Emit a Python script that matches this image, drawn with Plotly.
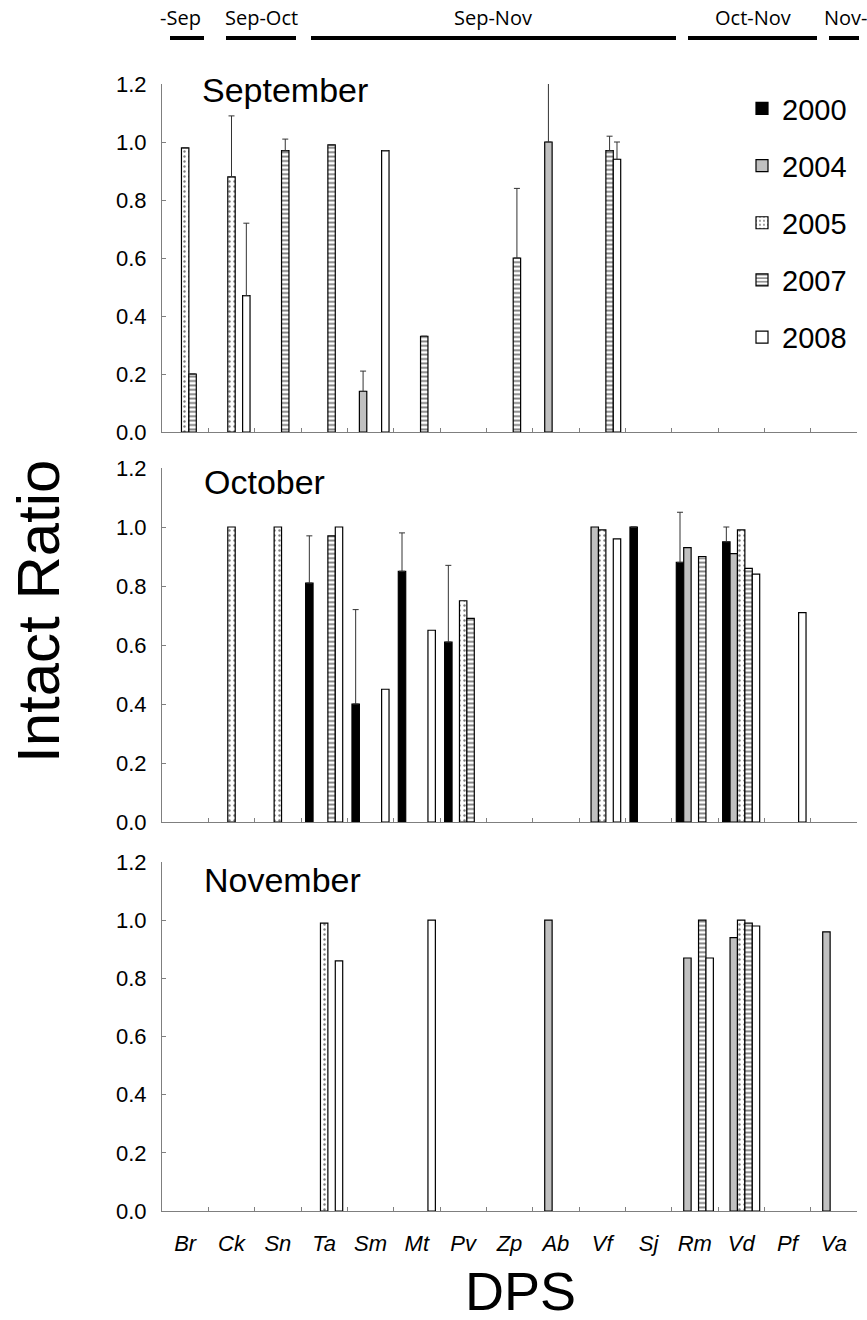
import plotly.graph_objects as go

# ---------------- data ----------------
categories = ["Br", "Ck", "Sn", "Ta", "Sm", "Mt", "Pv", "Zp", "Ab", "Vf", "Sj", "Rm", "Vd", "Pf", "Va"]
years = ["2000", "2004", "2005", "2007", "2008"]
months = ["September", "October", "November"]

#                Br    Ck    Sn    Ta    Sm    Mt    Pv    Zp    Ab    Vf    Sj    Rm    Vd    Pf    Va
sep_2000     = [None, None, None, None, None, None, None, None, None, None, None, None, None, None, None]
sep_2004     = [None, None, None, None, 0.14, None, None, None, 1.00, None, None, None, None, None, None]
sep_2005     = [0.98, 0.88, None, None, None, None, None, None, None, None, None, None, None, None, None]
sep_2007     = [0.20, None, 0.97, 0.99, None, 0.33, None, 0.60, None, 0.97, None, None, None, None, None]
sep_2008     = [None, 0.47, None, None, 0.97, None, None, None, None, 0.94, None, None, None, None, None]
sep_2000_err = [None, None, None, None, None, None, None, None, None, None, None, None, None, None, None]
sep_2004_err = [None, None, None, None, 0.07, None, None, None, 0.21, None, None, None, None, None, None]
sep_2005_err = [None, 0.21, None, None, None, None, None, None, None, None, None, None, None, None, None]
sep_2007_err = [None, None, 0.04, None, None, None, None, 0.24, None, 0.05, None, None, None, None, None]
sep_2008_err = [None, 0.25, None, None, None, None, None, None, None, 0.06, None, None, None, None, None]

oct_2000     = [None, None, None, 0.81, 0.40, 0.85, 0.61, None, None, None, 1.00, 0.88, 0.95, None, None]
oct_2004     = [None, None, None, None, None, None, None, None, None, 1.00, None, 0.93, 0.91, None, None]
oct_2005     = [None, 1.00, 1.00, None, None, None, 0.75, None, None, 0.99, None, None, 0.99, None, None]
oct_2007     = [None, None, None, 0.97, None, None, 0.69, None, None, None, None, 0.90, 0.86, None, None]
oct_2008     = [None, None, None, 1.00, 0.45, 0.65, None, None, None, 0.96, None, None, 0.84, 0.71, None]
oct_2000_err = [None, None, None, 0.16, 0.32, 0.13, 0.26, None, None, None, None, 0.17, 0.05, None, None]

nov_2000     = [None, None, None, None, None, None, None, None, None, None, None, None, None, None, None]
nov_2004     = [None, None, None, None, None, None, None, None, 1.00, None, None, 0.87, 0.94, None, 0.96]
nov_2005     = [None, None, None, 0.99, None, None, None, None, None, None, None, None, 1.00, None, None]
nov_2007     = [None, None, None, None, None, None, None, None, None, None, None, 1.00, 0.99, None, None]
nov_2008     = [None, None, None, 0.86, None, 1.00, None, None, None, None, None, 0.87, 0.98, None, None]

header_labels = ["-Sep", "Sep-Oct", "Sep-Nov", "Oct-Nov", "Nov-"]

panel_values = [
    [sep_2000, sep_2004, sep_2005, sep_2007, sep_2008],
    [oct_2000, oct_2004, oct_2005, oct_2007, oct_2008],
    [nov_2000, nov_2004, nov_2005, nov_2007, nov_2008],
]
panel_errors = [
    [sep_2000_err, sep_2004_err, sep_2005_err, sep_2007_err, sep_2008_err],
    [oct_2000_err, None, None, None, None],
    [None, None, None, None, None],
]

# ---------------- layout geometry ----------------
W, H = 867, 1320
L, R, T, B = 162, 10, 84, 109
PW, PH = W - L - R, H - T - B


def px_x(px):
    return (px - L) / PW


def px_y(py):
    return (H - B - py) / PH


domains = [(px_y(432), 1.0), (px_y(822), px_y(468)), (0.0, px_y(862))]
title_pos = [(200, 90), (202, 482), (202, 880)]

FONT = "Liberation Sans, Arial, sans-serif"
AX = "#7f7f7f"
edge = dict(color="black", width=1.2)

styles = {
    "2000": dict(color="black", line=edge),
    "2004": dict(color="#c0c0c0", line=edge),
    "2005": dict(color="white", line=edge,
                 pattern=dict(shape=".", fgcolor="black", bgcolor="white", size=5, solidity=0.18)),
    "2007": dict(color="white", line=edge,
                 pattern=dict(shape="-", fgcolor="black", bgcolor="white", size=4.4, solidity=0.42)),
    "2008": dict(color="white", line=edge),
}

fig = go.Figure()

for p in range(3):
    xa = "x" if p == 0 else f"x{p+1}"
    ya = "y" if p == 0 else f"y{p+1}"
    for k, yr in enumerate(years):
        vals = panel_values[p][k]
        errs = panel_errors[p][k]
        kw = {}
        if errs is not None and any(e is not None for e in errs):
            kw["error_y"] = dict(type="data", symmetric=False,
                                 array=[e if e is not None else 0 for e in errs],
                                 arrayminus=[0] * len(errs),
                                 color="#333333", thickness=1, width=3)
        fig.add_trace(go.Bar(
            x=categories, y=vals, name=yr, legendgroup=yr,
            showlegend=(p == 0), marker=styles[yr], xaxis=xa, yaxis=ya,
            cliponaxis=False, **kw))

layout_axes = {}
for p in range(3):
    xk = "xaxis" if p == 0 else f"xaxis{p+1}"
    yk = "yaxis" if p == 0 else f"yaxis{p+1}"
    layout_axes[xk] = dict(
        domain=[0, 1], anchor="y" if p == 0 else f"y{p+1}",
        type="category", categoryorder="array", categoryarray=categories,
        range=[-0.5, len(categories) - 0.5], automargin=False,
        showline=True, linecolor=AX, linewidth=1, mirror=False,
        ticks="inside", tickson="boundaries", ticklen=4, tickcolor=AX,
        showgrid=False, zeroline=False, showticklabels=(p == 2),
        tickfont=dict(family=FONT, size=22, color="black", style="italic"),
        ticklabelstandoff=13,
    )
    layout_axes[yk] = dict(
        domain=list(domains[p]), anchor="x" if p == 0 else f"x{p+1}",
        range=[0, 1.2], tick0=0, dtick=0.2, tickformat=".1f", automargin=False,
        showline=True, linecolor=AX, linewidth=1,
        ticks="inside", ticklen=4, tickcolor=AX,
        showgrid=False, zeroline=False,
        tickfont=dict(family=FONT, size=22, color="black"),
        ticklabelstandoff=10,
    )

annotations = []
for p, m in enumerate(months):
    tx, ty = title_pos[p]
    annotations.append(dict(
        text=m, xref="paper", yref="paper", x=px_x(tx), y=px_y(ty),
        xanchor="left", yanchor="middle", showarrow=False,
        font=dict(family=FONT, size=34, color="black")))

annotations.append(dict(text="Intact Ratio", xref="paper", yref="paper",
                        x=px_x(38), y=px_y(611), textangle=-90,
                        xanchor="center", yanchor="middle", showarrow=False,
                        font=dict(family=FONT, size=60, color="black")))
annotations.append(dict(text="DPS", xref="paper", yref="paper",
                        x=px_x(520), y=px_y(1291),
                        xanchor="center", yanchor="middle", showarrow=False,
                        font=dict(family=FONT, size=54, color="black")))

# header period bars (layout decoration)
header_bar_px = [(170, 204), (226, 296), (311, 676), (688, 817), (829, 859)]
header_text_px = [180, 261, 493, 753, 846]
shapes = []
for lab, (x0, x1), tx in zip(header_labels, header_bar_px, header_text_px):
    shapes.append(dict(type="line", xref="paper", yref="paper",
                       x0=px_x(x0), x1=px_x(x1), y0=px_y(38), y1=px_y(38),
                       line=dict(color="black", width=4)))
    annotations.append(dict(text=lab, xref="paper", yref="paper",
                            x=px_x(tx), y=px_y(17), xanchor="center", yanchor="middle",
                            showarrow=False,
                            font=dict(family="Open Sans, Liberation Sans, sans-serif", size=20, color="black")))

fig.update_layout(
    width=W, height=H,
    margin=dict(l=L, r=R, t=T, b=B, pad=0, autoexpand=False),
    paper_bgcolor="white", plot_bgcolor="white",
    barmode="group", bargap=0.2, bargroupgap=0,
    showlegend=True,
    legend=dict(x=px_x(742), y=px_y(83), xanchor="left", yanchor="top",
                font=dict(family=FONT, size=29, color="black"),
                tracegroupgap=16.5, bgcolor="rgba(0,0,0,0)", itemwidth=30),
    annotations=annotations, shapes=shapes,
    **layout_axes,
)

fig.write_html("out.html", config={"displayModeBar": False},
               post_script="document.body.style.margin='0';document.body.style.overflow='hidden';")
